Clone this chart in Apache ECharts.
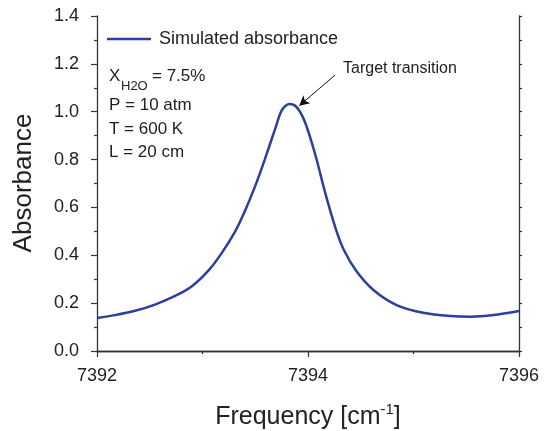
<!DOCTYPE html>
<html>
<head>
<meta charset="utf-8">
<title>Absorbance</title>
<script src="https://cdn.jsdelivr.net/npm/echarts@6/dist/echarts.min.js"></script>
<style>
  html, body { margin: 0; padding: 0; background: #fff; }
  #chart { width: 549px; height: 431px; }
</style>
</head>
<body>
<div id="chart"></div>
<script>
// 曲线数据
var freq = [7392.00, 7392.17, 7392.36, 7392.55, 7392.74, 7392.90, 7393.06, 7393.18, 7393.31, 7393.40,
            7393.50, 7393.59, 7393.69, 7393.75, 7393.82, 7393.89, 7393.97, 7394.07, 7394.16, 7394.26,
            7394.34, 7394.46, 7394.62, 7394.84, 7395.09, 7395.35, 7395.54, 7395.76, 7396.00];
var absorb = [0.138, 0.150, 0.168, 0.194, 0.230, 0.271, 0.338, 0.408, 0.500, 0.583,
              0.690, 0.800, 0.930, 1.005, 1.032, 1.020, 0.958, 0.819, 0.666, 0.515,
              0.422, 0.333, 0.255, 0.192, 0.160, 0.146, 0.143, 0.150, 0.167];
var xTicks = [7392, 7394, 7396];
var yTicks = [0, 0.2, 0.4, 0.6, 0.8, 1.0, 1.2, 1.4];
var conditions = ['P = 10 atm', 'T = 600 K', 'L = 20 cm'];
var arrowFrom = [7394.256, 1.153];
var arrowTo = [7393.917, 1.025];

var font = 'Liberation Sans, Arial, Helvetica, sans-serif';
var axisColor = '#333';
var textColor = '#222';
var lineColor = '#2b3f9f';

var points = freq.map(function(f, i) { return [f, absorb[i]]; });

var chart = echarts.init(document.getElementById('chart'));
chart.setOption({
  animation: false,
  textStyle: { fontFamily: font },
  grid: { left: 97, right: 30, top: 16, bottom: 80 },
  legend: {
    data: [{ name: 'Simulated absorbance', icon: 'rect' }],
    left: 107, top: 30, padding: 0,
    itemWidth: 44, itemHeight: 2.5,
    textStyle: { fontSize: 18, color: textColor, fontFamily: font, padding: [0, 0, 0, 3] }
  },
  xAxis: [{
    type: 'value', min: xTicks[0], max: xTicks[xTicks.length - 1], interval: 2,
    axisLine: { lineStyle: { color: axisColor, width: 1.3 } },
    axisTick: { length: 6, lineStyle: { color: axisColor, width: 1.2 } },
    minorTick: { show: true, splitNumber: 2, length: 3, lineStyle: { color: axisColor, width: 1.2 } },
    splitLine: { show: false },
    axisLabel: {
      fontSize: 18, color: textColor, margin: 16, fontFamily: font,
      formatter: function(v) { return String(v); }
    }
  }, {
    type: 'value', position: 'top', min: 7392, max: 7396,
    axisLine: { show: true, lineStyle: { color: axisColor, width: 1.3 } },
    axisTick: { show: false }, axisLabel: { show: false }, splitLine: { show: false }
  }],
  yAxis: [{
    type: 'value', min: yTicks[0], max: yTicks[yTicks.length - 1], interval: 0.2,
    axisLine: { show: true, lineStyle: { color: axisColor, width: 1.3 } },
    axisTick: { show: true, length: 6, lineStyle: { color: axisColor, width: 1.2 } },
    minorTick: { show: true, splitNumber: 2, length: 3, lineStyle: { color: axisColor, width: 1.2 } },
    splitLine: { show: false },
    axisLabel: {
      fontSize: 18, color: textColor, margin: 18, fontFamily: font,
      formatter: function(v) { return v.toFixed(1); }
    }
  }, {
    type: 'value', position: 'right', min: 0, max: 1.4, interval: 0.1,
    axisLine: { show: true, lineStyle: { color: axisColor, width: 1.3 } },
    axisTick: { show: true, length: 3, lineStyle: { color: axisColor, width: 1.2 } },
    axisLabel: { show: false }, splitLine: { show: false }
  }],
  series: [{
    name: 'Simulated absorbance',
    type: 'line',
    data: points,
    smooth: 0.3,
    symbol: 'none',
    lineStyle: { color: lineColor, width: 2.5 },
    itemStyle: { color: lineColor },
    markLine: {
      silent: true,
      symbol: ['none', 'arrow'],
      symbolSize: [8, 10],
      label: { show: false },
      lineStyle: { color: '#111', width: 1, type: 'solid' },
      data: [[{ coord: arrowFrom }, { coord: arrowTo }]]
    }
  }],
  graphic: [
    { type: 'text', left: 343, top: 61,
      style: { text: 'Target transition', fill: textColor, font: '16px ' + font } },
    { type: 'text', left: 109, top: 68,
      style: { text: 'X', fill: textColor, font: '17px ' + font } },
    { type: 'text', left: 121, top: 80,
      style: { text: 'H2O', fill: textColor, font: '13px ' + font } },
    { type: 'text', left: 152, top: 68,
      style: { text: '= 7.5%', fill: textColor, font: '17px ' + font } },
    { type: 'text', left: 109, top: 97,
      style: { text: conditions[0], fill: textColor, font: '17px ' + font } },
    { type: 'text', left: 109, top: 121,
      style: { text: conditions[1], fill: textColor, font: '17px ' + font } },
    { type: 'text', left: 109, top: 144,
      style: { text: conditions[2], fill: textColor, font: '17px ' + font } },
    { type: 'text', x: 24, y: 183, rotation: Math.PI / 2,
      style: { text: 'Absorbance', fill: textColor, font: '26px ' + font,
               textAlign: 'center', textVerticalAlign: 'middle' } },
    { type: 'text', x: 308, y: 402,
      style: {
        text: '{a|Frequency [cm}{s|-1}{a|]}',
        textAlign: 'center',
        rich: {
          a: { fontSize: 25, fontFamily: font, fill: textColor, color: textColor, lineHeight: 28, verticalAlign: 'bottom' },
          s: { fontSize: 15, fontFamily: font, fill: textColor, color: textColor, lineHeight: 28, verticalAlign: 'top' }
        }
      } }
  ]
});
</script>
</body>
</html>
